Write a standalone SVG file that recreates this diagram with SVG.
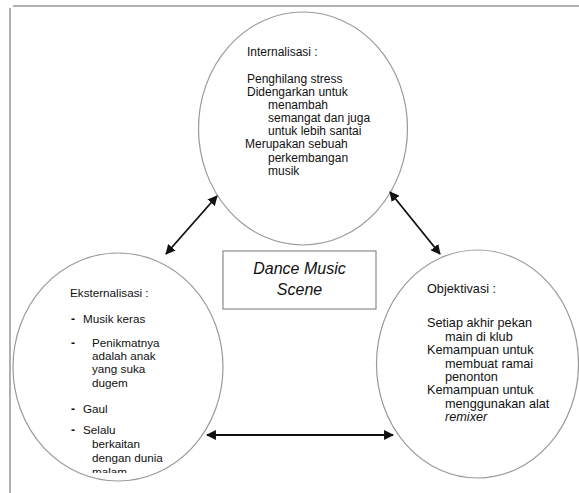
<svg xmlns="http://www.w3.org/2000/svg" width="579" height="493" viewBox="0 0 579 493">
<style>
.frame{stroke:#b0b0b0;stroke-width:2;fill:none}
.node{fill:#fff;stroke:#9a9a9a;stroke-width:1.2}
.box{fill:#fff;stroke:#8a8a8a;stroke-width:1.2}
text{font-family:"Liberation Sans",Arial,sans-serif;fill:#111}
.t12{font-size:12px}
.l12{font-size:11.7px}
.r13{font-size:12.7px}
.dash{font-size:12px;font-weight:bold}
.title{font-size:16px;font-style:italic;text-anchor:middle}
.conn{stroke:#111;stroke-width:1.8;fill:none;marker-start:url(#ah);marker-end:url(#ah)}
</style>
<defs>
<marker id="ah" viewBox="0 0 10 10" refX="9" refY="5" markerWidth="5.5" markerHeight="5.5" orient="auto-start-reverse" markerUnits="strokeWidth">
<path d="M0,0 L10,5 L0,10 Z" fill="#111"/>
</marker>
<clipPath id="clipL"><rect x="0" y="0" width="579" height="473"/></clipPath>
</defs>
<g id="frame">
<line class="frame" x1="13" y1="6" x2="579" y2="6"/>
<line class="frame" x1="10" y1="8" x2="10" y2="493"/>
</g>
<g id="internalisasi">
<ellipse class="node" cx="303" cy="128.5" rx="104.5" ry="116.5"/>
<text class="t12" x="247" y="56">Internalisasi :</text>
<text class="t12" x="247" y="83">Penghilang stress</text>
<text class="t12" x="247" y="96">Didengarkan untuk</text>
<text class="t12" x="268" y="109">menambah</text>
<text class="t12" x="268" y="122">semangat dan juga</text>
<text class="t12" x="268" y="135">untuk lebih santai</text>
<text class="t12" x="245" y="148">Merupakan sebuah</text>
<text class="t12" x="268" y="162">perkembangan</text>
<text class="t12" x="268" y="175">musik</text>
</g>
<g id="eksternalisasi">
<ellipse class="node" cx="118" cy="367" rx="105" ry="114"/>
<text class="l12" x="70" y="297">Eksternalisasi :</text>
<text class="dash" x="71" y="323">-</text>
<text class="l12" x="83" y="323">Musik keras</text>
<text class="dash" x="71" y="347">-</text>
<text class="l12" x="92" y="347">Penikmatnya</text>
<text class="l12" x="92" y="360">adalah anak</text>
<text class="l12" x="92" y="373">yang suka</text>
<text class="l12" x="92" y="387">dugem</text>
<text class="dash" x="71" y="413">-</text>
<text class="l12" x="83" y="413">Gaul</text>
<text class="dash" x="71" y="434">-</text>
<text class="l12" x="83" y="434">Selalu</text>
<text class="l12" x="92" y="448">berkaitan</text>
<text class="l12" x="92" y="462">dengan dunia</text>
<text class="l12" x="92" y="476" clip-path="url(#clipL)">malam</text>
</g>
<g id="objektivasi">
<ellipse class="node" cx="477.5" cy="364" rx="101" ry="114"/>
<text class="r13" x="427" y="293">Objektivasi :</text>
<text class="r13" x="427" y="327">Setiap akhir pekan</text>
<text class="r13" x="445" y="340.5">main di klub</text>
<text class="r13" x="427" y="354">Kemampuan untuk</text>
<text class="r13" x="445" y="367.5">membuat ramai</text>
<text class="r13" x="445" y="381">penonton</text>
<text class="r13" x="427" y="394">Kemampuan untuk</text>
<text class="r13" x="445" y="407.5">menggunakan alat</text>
<text class="r13" x="445" y="421" font-style="italic">remixer</text>
</g>
<g id="dance-music-scene">
<rect class="box" x="223" y="251" width="153" height="58"/>
<text class="title" x="299.5" y="274">Dance Music</text>
<text class="title" x="299.5" y="295">Scene</text>
</g>
<g id="connectors">
<line class="conn" x1="166" y1="254" x2="217" y2="196"/>
<line class="conn" x1="390" y1="192" x2="440" y2="254"/>
<line class="conn" x1="207" y1="435" x2="393" y2="435"/>
</g>
</svg>
